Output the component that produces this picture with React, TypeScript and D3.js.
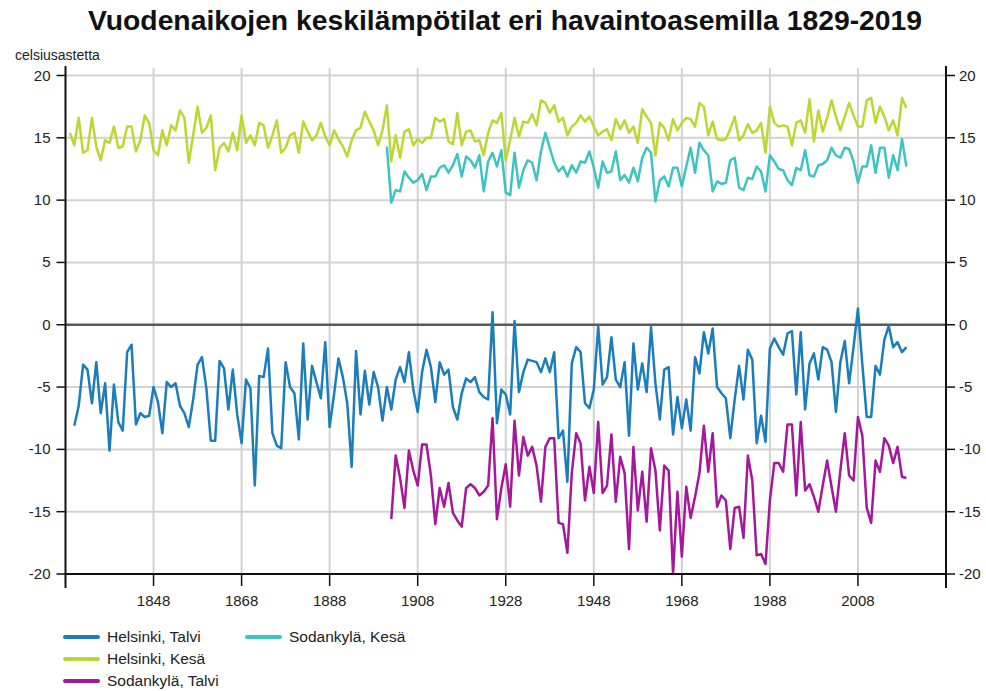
import { useEffect, useRef } from 'react'
import * as d3 from 'd3'

// Helsinki, Kesä 1829-2019
const helsinkiSummerStart = 1829
const helsinkiSummer = [
  15.4, 14.4, 16.6, 13.8, 14.0, 16.6, 14.3, 13.2, 14.8, 14.6, 15.9, 14.2, 14.3, 15.9, 15.9, 13.9, 14.8, 16.8, 16.2, 14.0,
  13.6, 15.6, 14.4, 16.0, 15.6, 17.2, 16.6, 13.0, 15.2, 17.5, 15.4, 15.8, 16.8, 12.4, 14.2, 14.6, 13.9, 15.4, 14.0, 16.8,
  14.6, 15.2, 14.4, 16.2, 16.0, 14.2,
  15.2, 16.4, 13.8, 14.2, 15.2, 15.4, 13.8, 16.3, 15.5, 14.8, 15.2, 16.2, 15.1, 14.4, 15.6, 14.9, 14.3, 13.5, 14.8, 15.6,
  15.8, 17.1, 16.3, 15.6, 14.4, 15.6, 17.6, 13.1, 15.2, 13.4, 15.5, 15.7, 14.4, 14.9, 14.6, 15.0, 15.0, 16.6, 16.3, 16.5,
  14.7, 14.5, 17.0, 14.4, 15.5, 15.6,
  14.7, 14.8, 13.6, 15.4, 16.4, 16.2, 17.0, 13.2, 14.8, 16.6, 15.1, 16.3, 16.2, 16.9, 16.0, 18.0, 17.8, 17.0, 17.6, 16.3,
  16.6, 15.2, 15.9, 16.2, 16.8, 16.3, 16.7, 15.9, 15.2, 15.5, 15.7, 14.8, 16.5, 15.7, 16.4, 15.4, 15.9, 14.6, 17.3, 16.7,
  16.2, 13.6, 16.2, 15.8, 14.8,
  16.5, 15.6, 16.2, 16.6, 16.5, 15.9, 17.8, 17.5, 15.2, 16.3, 14.9, 14.8, 14.9, 15.7, 16.7, 14.8, 15.2, 16.1, 15.4, 15.6,
  16.2, 13.8, 17.5, 16.2, 15.9, 16.0, 15.9, 14.4, 16.2, 16.4, 15.4, 18.1, 14.7, 17.2, 15.5, 16.6, 18.0, 16.7, 15.6, 16.7,
  17.8, 16.8, 15.9, 15.9, 18.0, 18.2, 16.2, 17.5, 16.7, 15.6, 16.4, 15.2, 18.2, 17.4
]

// Helsinki, Talvi 1830-2019
const helsinkiWinterStart = 1830
const helsinkiWinter = [
  -8.1, -6.5, -3.2, -3.6, -6.3, -3.0, -7.1, -4.7, -10.1, -4.8, -7.8, -8.5, -2.2, -1.6, -8.0, -7.1, -7.4, -7.3, -5.0, -6.2,
  -8.7, -4.6, -5.0, -4.7, -6.5, -7.1, -8.2, -6.0, -3.2, -2.6, -5.1, -9.3, -9.3, -2.9, -3.5, -6.8, -3.6, -7.2, -9.5, -4.4,
  -5.1, -12.9, -4.1, -4.2, -1.9,
  -8.7, -9.7, -9.9, -3.0, -5.0, -5.5, -9.2, -1.5, -7.6, -3.3, -4.6, -5.9, -1.4, -8.2, -5.6, -2.7, -4.2, -6.3, -11.4, -2.1,
  -7.2, -3.7, -6.4, -3.8, -5.0, -7.7, -5.0, -6.8, -4.4, -3.4, -4.6, -2.2, -5.2, -7.0, -3.8, -2.0, -3.4, -6.2, -3.0, -4.0,
  -3.6, -6.6, -7.6, -5.5, -4.3, -4.6,
  -4.2, -5.4, -5.8, -6.0, 1.0, -7.9, -5.2, -5.6, -7.2, 0.3, -5.4, -3.8, -2.8, -2.9, -3.0, -3.8, -2.7, -3.8, -2.2, -9.1,
  -8.5, -12.6, -3.1, -1.8, -2.2, -6.3, -6.7, -5.2, -0.1, -4.8, -4.2, -1.0, -4.4, -5.0, -3.0, -8.9, -1.5, -5.2, -3.1, -5.4,
  -0.2, -4.7, -7.6, -3.6, -3.4,
  -8.8, -5.8, -8.3, -6.0, -8.5, -2.6, -3.9, -0.6, -2.3, -0.3, -5.0, -5.5, -5.9, -9.1, -6.0, -3.3, -6.0, -2.0, -2.8, -9.5,
  -7.3, -9.4, -1.9, -1.1, -1.8, -2.4, -0.7, -0.5, -5.6, -0.6, -6.8, -3.1, -2.3, -4.4, -1.8, -2.0, -3.0, -7.0, -3.0, -1.3,
  -4.7, -1.8, 1.3, -3.2, -7.4, -7.4, -3.3, -4.0, -1.2, -0.1, -1.8, -1.4, -2.2, -1.8
]

// Sodankylä, Kesä 1901-2019
const sodankylaSummerStart = 1901
const sodankylaSummer = [
  14.3, 9.8, 10.8, 10.7, 12.3, 11.8, 11.4, 11.6, 12.1, 10.8, 11.9, 11.9, 12.6, 12.8, 12.2, 12.8, 13.7, 11.9, 13.5, 13.2,
  12.6, 13.6, 10.7, 13.1, 13.8, 12.7, 14.0, 10.6, 10.4, 13.8, 11.0, 12.4, 13.2, 13.0, 11.6, 13.9, 15.4, 14.2, 13.0, 12.3,
  12.7, 11.9, 12.8, 12.2, 13.1, 13.0, 13.9, 12.6, 11.0, 13.1, 12.2, 12.3, 13.9, 11.6, 12.0, 11.4, 12.6, 11.5, 13.4, 14.2,
  13.8, 9.9, 11.6, 11.9, 11.1,
  12.6, 12.6, 11.1, 12.7, 14.2, 12.2, 14.6, 14.0, 13.6, 10.7, 11.5, 11.3, 11.4, 13.2, 13.4, 11.0, 10.8, 11.8, 11.7, 12.7,
  12.3, 10.7, 13.6, 13.1, 12.5, 12.4, 11.6, 11.2, 12.6, 12.4, 14.0, 12.0, 11.9, 12.8, 12.9, 13.2, 14.2, 13.6, 13.4, 14.2,
  14.1, 13.1, 11.4, 12.7, 12.7, 14.4, 12.2, 14.2, 14.2, 11.8, 13.6, 12.4, 14.9, 12.7
]

// Sodankylä, Talvi 1902-2019
const sodankylaWinterStart = 1902
const sodankylaWinter = [
  -15.6, -10.5, -12.3, -14.7, -10.1, -11.7, -12.9, -9.6, -9.6, -12.1, -16.0, -13.1, -14.6, -12.7, -15.1, -15.7, -16.2, -13.1,
  -12.8, -13.1, -13.7, -13.4, -12.9, -7.5, -15.6, -13.1, -11.2, -14.6, -7.7, -12.1,
  -9.0, -10.5, -9.8, -11.3, -14.2, -9.8, -9.1, -9.1, -15.9, -16.0, -18.3, -11.9, -8.7, -9.5, -14.1, -11.4, -13.5, -7.8,
  -13.5, -12.9, -8.8, -14.2, -10.6, -11.9, -18.0, -9.8, -14.9, -11.8, -15.8, -9.9, -11.7, -16.5, -11.3, -11.7,
  -20.0, -13.4, -18.6, -13.0, -15.5, -13.8, -11.9, -8.1, -11.8, -8.7, -14.6, -13.7, -14.1, -18.0, -14.7, -14.6, -17.1, -10.5,
  -12.5, -18.5, -18.4, -19.2, -14.1, -11.1, -11.1, -11.8, -8.0, -8.0, -13.7, -7.8, -13.3, -12.8, -13.8, -15.0, -12.9, -10.9,
  -13.0, -15.0, -11.7, -8.7, -12.1, -12.5, -7.4, -8.9, -14.7, -15.9, -10.9, -11.8, -9.1, -9.7, -11.1, -9.8, -12.2, -12.3
]

const xTicks = [1848, 1868, 1888, 1908, 1928, 1948, 1968, 1988, 2008]
const yTicks = [20, 15, 10, 5, 0, -5, -10, -15, -20]

const seriesNames = ['Helsinki, Talvi', 'Helsinki, Kesä', 'Sodankylä, Talvi', 'Sodankylä, Kesä']
const seriesColors = ['#1b7dbb', '#bdd631', '#a5189b', '#3ec4c0']

export default function App() {
  const svgRef = useRef<SVGSVGElement>(null)

  useEffect(() => {
    const width = 986
    const height = 691
    const font = 'Arial, "Liberation Sans", sans-serif'

    const svg = d3.select(svgRef.current)
      .attr('width', width)
      .attr('height', height)

    svg.selectAll('*').remove()

    const x = d3.scaleLinear().domain([1828, 2028]).range([65.5, 946])
    const y = d3.scaleLinear().domain([-20, 20]).range([574, 75.5])

    const g = svg.append('g')

    // title
    g.append('text')
      .attr('x', 505)
      .attr('y', 30)
      .attr('text-anchor', 'middle')
      .attr('font-family', font)
      .attr('font-weight', 'bold')
      .attr('font-size', 28.3)
      .attr('fill', '#111')
      .text('Vuodenaikojen keskilämpötilat eri havaintoasemilla 1829-2019')

    g.append('text')
      .attr('x', 15)
      .attr('y', 60)
      .attr('font-family', font)
      .attr('font-size', 14)
      .attr('fill', '#222')
      .text('celsiusastetta')

    // grid
    g.selectAll('.hgrid')
      .data(yTicks.filter(d => d !== 0))
      .join('line')
      .attr('x1', x(1828)).attr('x2', x(2028))
      .attr('y1', d => y(d)).attr('y2', d => y(d))
      .attr('stroke', '#d2d2d2')
      .attr('stroke-width', 2)

    g.selectAll('.vgrid')
      .data(xTicks)
      .join('line')
      .attr('x1', d => x(d)).attr('x2', d => x(d))
      .attr('y1', 68).attr('y2', y(-20))
      .attr('stroke', '#d2d2d2')
      .attr('stroke-width', 2)

    g.append('line')
      .attr('x1', x(1828)).attr('x2', x(2028))
      .attr('y1', y(0)).attr('y2', y(0))
      .attr('stroke', '#5a5a5a')
      .attr('stroke-width', 2.5)

    // series
    const line = d3.line<number>()
    const drawSeries = (values: number[], start: number, color: string) => {
      g.append('path')
        .datum(values)
        .attr('fill', 'none')
        .attr('stroke', color)
        .attr('stroke-width', 2.5)
        .attr('stroke-linejoin', 'round')
        .attr('d', line.x((d, i) => x(start + i)).y(d => y(d)))
    }
    drawSeries(helsinkiSummer, helsinkiSummerStart, seriesColors[1])
    drawSeries(sodankylaSummer, sodankylaSummerStart, seriesColors[3])
    drawSeries(helsinkiWinter, helsinkiWinterStart, seriesColors[0])
    drawSeries(sodankylaWinter, sodankylaWinterStart, seriesColors[2])

    // axes
    const axisColor = '#111'
    g.append('line')
      .attr('x1', x(1828)).attr('x2', x(1828))
      .attr('y1', 66).attr('y2', 588)
      .attr('stroke', axisColor).attr('stroke-width', 2)
    g.append('line')
      .attr('x1', x(2028)).attr('x2', x(2028))
      .attr('y1', 66).attr('y2', 588)
      .attr('stroke', axisColor).attr('stroke-width', 2)
    g.append('line')
      .attr('x1', x(1828) - 1).attr('x2', x(2028) + 1)
      .attr('y1', y(-20)).attr('y2', y(-20))
      .attr('stroke', axisColor).attr('stroke-width', 2)

    // y ticks left and right
    g.selectAll('.ytickL')
      .data(yTicks)
      .join('line')
      .attr('x1', x(1828) - 9).attr('x2', x(1828))
      .attr('y1', d => y(d)).attr('y2', d => y(d))
      .attr('stroke', axisColor).attr('stroke-width', 1.5)
    g.selectAll('.ytickR')
      .data(yTicks)
      .join('line')
      .attr('x1', x(2028)).attr('x2', x(2028) + 9)
      .attr('y1', d => y(d)).attr('y2', d => y(d))
      .attr('stroke', axisColor).attr('stroke-width', 1.5)

    g.selectAll('.ylabL')
      .data(yTicks)
      .join('text')
      .attr('x', x(1828) - 15)
      .attr('y', d => y(d) + 5)
      .attr('text-anchor', 'end')
      .attr('font-family', font)
      .attr('font-size', 15)
      .attr('fill', '#222')
      .text(d => String(d))
    g.selectAll('.ylabR')
      .data(yTicks)
      .join('text')
      .attr('x', x(2028) + 13)
      .attr('y', d => y(d) + 5)
      .attr('text-anchor', 'start')
      .attr('font-family', font)
      .attr('font-size', 15)
      .attr('fill', '#222')
      .text(d => String(d))

    // x ticks
    g.selectAll('.xtick')
      .data(xTicks)
      .join('line')
      .attr('x1', d => x(d)).attr('x2', d => x(d))
      .attr('y1', y(-20)).attr('y2', y(-20) + 12)
      .attr('stroke', axisColor).attr('stroke-width', 1.5)
    g.selectAll('.xlab')
      .data(xTicks)
      .join('text')
      .attr('x', d => x(d))
      .attr('y', 606)
      .attr('text-anchor', 'middle')
      .attr('font-family', font)
      .attr('font-size', 15)
      .attr('fill', '#222')
      .text(d => String(d))

    // legend
    const legendPos = [
      { x: 65, y: 637 },
      { x: 65, y: 659 },
      { x: 65, y: 681 },
      { x: 247, y: 637 }
    ]
    seriesNames.forEach((name, i) => {
      const p = legendPos[i]
      g.append('line')
        .attr('x1', p.x).attr('x2', p.x + 33)
        .attr('y1', p.y).attr('y2', p.y)
        .attr('stroke', seriesColors[i])
        .attr('stroke-width', 4)
        .attr('stroke-linecap', 'round')
      g.append('text')
        .attr('x', p.x + 42)
        .attr('y', p.y + 5)
        .attr('font-family', font)
        .attr('font-size', 15.5)
        .attr('fill', '#222')
        .text(name)
    })
  }, [])

  return (
    <svg ref={svgRef} style={{ position: 'absolute', left: 0, top: 0, display: 'block' }}></svg>
  )
}
